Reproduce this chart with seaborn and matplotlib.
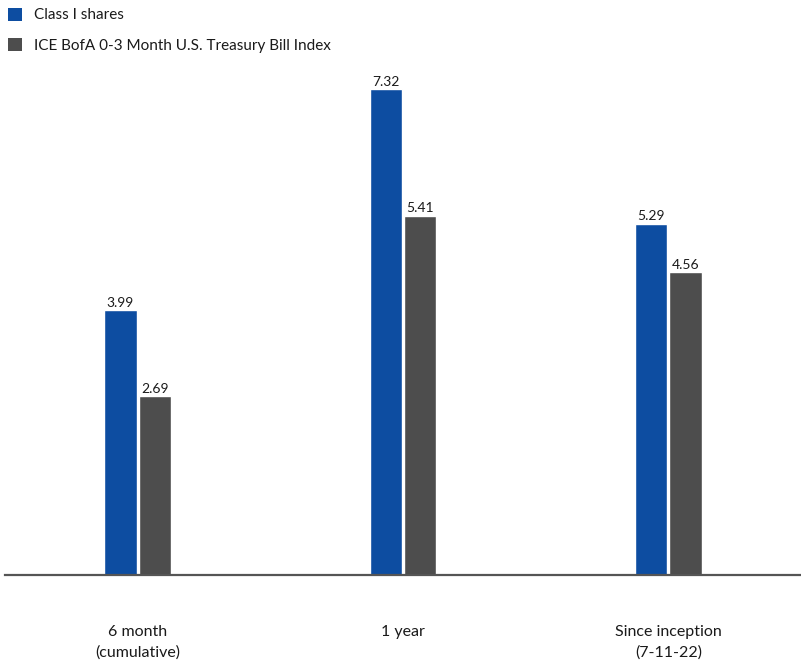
import matplotlib
matplotlib.use("Agg")
import matplotlib.pyplot as plt
import seaborn as sns
import pandas as pd
from matplotlib.patches import Patch

# Data
periods = ["6 month\n(cumulative)", "1 year", "Since inception\n(7-11-22)"]
class_i = [3.99, 7.32, 5.29]
index_vals = [2.69, 5.41, 4.56]
series_names = ["Class I shares", "ICE BofA 0-3 Month U.S. Treasury Bill Index"]
colors = ["#0D4DA1", "#4D4D4D"]

df = pd.DataFrame({
    "period": periods * 2,
    "value": class_i + index_vals,
    "series": [series_names[0]] * 3 + [series_names[1]] * 3,
})

sns.set_style("white")
plt.rcParams["font.family"] = ["Lato", "DejaVu Sans"]

fig = plt.figure(figsize=(8.01, 6.67), dpi=100)
ax = fig.add_axes([5 / 801, 92 / 667, 796 / 801, 575 / 667])

sns.barplot(data=df, x="period", y="value", hue="series", palette=colors,
            width=0.26, gap=0.06, ax=ax, legend=False, saturation=1)

for cont in ax.containers:
    ax.bar_label(cont, fmt="%.2f", padding=1, fontsize=10, color="#1a1a1a")

ax.set_xlim(-0.5, 2.5)
ax.set_ylim(0, 575 / 66.4)
ax.set_xlabel("")
ax.set_ylabel("")
ax.set_yticks([])
ax.tick_params(axis="x", length=0, pad=36, labelsize=11.5, colors="#1a1a1a")
for lbl in ax.get_xticklabels():
    lbl.set_linespacing(1.55)
for s in ["top", "left", "right"]:
    ax.spines[s].set_visible(False)
ax.spines["bottom"].set_color("#555555")
ax.spines["bottom"].set_linewidth(1.6)

handles = [Patch(facecolor=c, edgecolor="none") for c in colors]
fig.legend(handles, series_names, loc="upper left", bbox_to_anchor=(0.0, 1.0),
           frameon=False, fontsize=11, handlelength=0.95, handleheight=0.95,
           handletextpad=0.75, labelspacing=1.0, borderaxespad=0.05,
           borderpad=0.45, labelcolor="#1a1a1a")

fig.savefig("out.png", dpi=100)
